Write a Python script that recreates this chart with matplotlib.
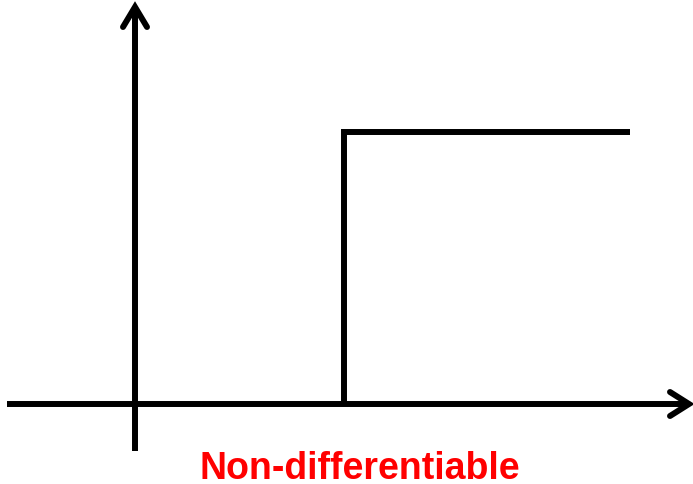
import matplotlib
matplotlib.use("Agg")
import matplotlib.pyplot as plt

# step function data (pixel-like units, origin at axes crossing)
step_x = [209, 209, 495]
step_y = [0, 272, 272]
label = "Non-differentiable"

fig = plt.figure(figsize=(6.93, 4.84), dpi=100)
ax = fig.add_axes([0, 0, 1, 1])
ax.set_xlim(-135, 558)
ax.set_ylim(-80, 404)
ax.axis("off")

lw = 4.3
# x axis
ax.plot([-128, 553], [0, 0], color="black", lw=lw, solid_capstyle="butt")
ax.plot([535, 554, 535], [12, 0, -12], color="black", lw=lw,
        solid_capstyle="round", solid_joinstyle="miter")
# y axis
ax.plot([0, 0], [-47, 396], color="black", lw=lw, solid_capstyle="butt")
ax.plot([-12, 0, 12], [377, 397, 377], color="black", lw=lw,
        solid_capstyle="round", solid_joinstyle="miter")

# step
ax.plot(step_x, step_y, color="black", lw=lw, solid_joinstyle="miter",
        solid_capstyle="butt")

ax.text(225, -75, label, color="#ff0000", fontsize=27, fontweight="bold",
        family="Liberation Sans", ha="center", va="baseline")

fig.savefig("out.png", dpi=100)
